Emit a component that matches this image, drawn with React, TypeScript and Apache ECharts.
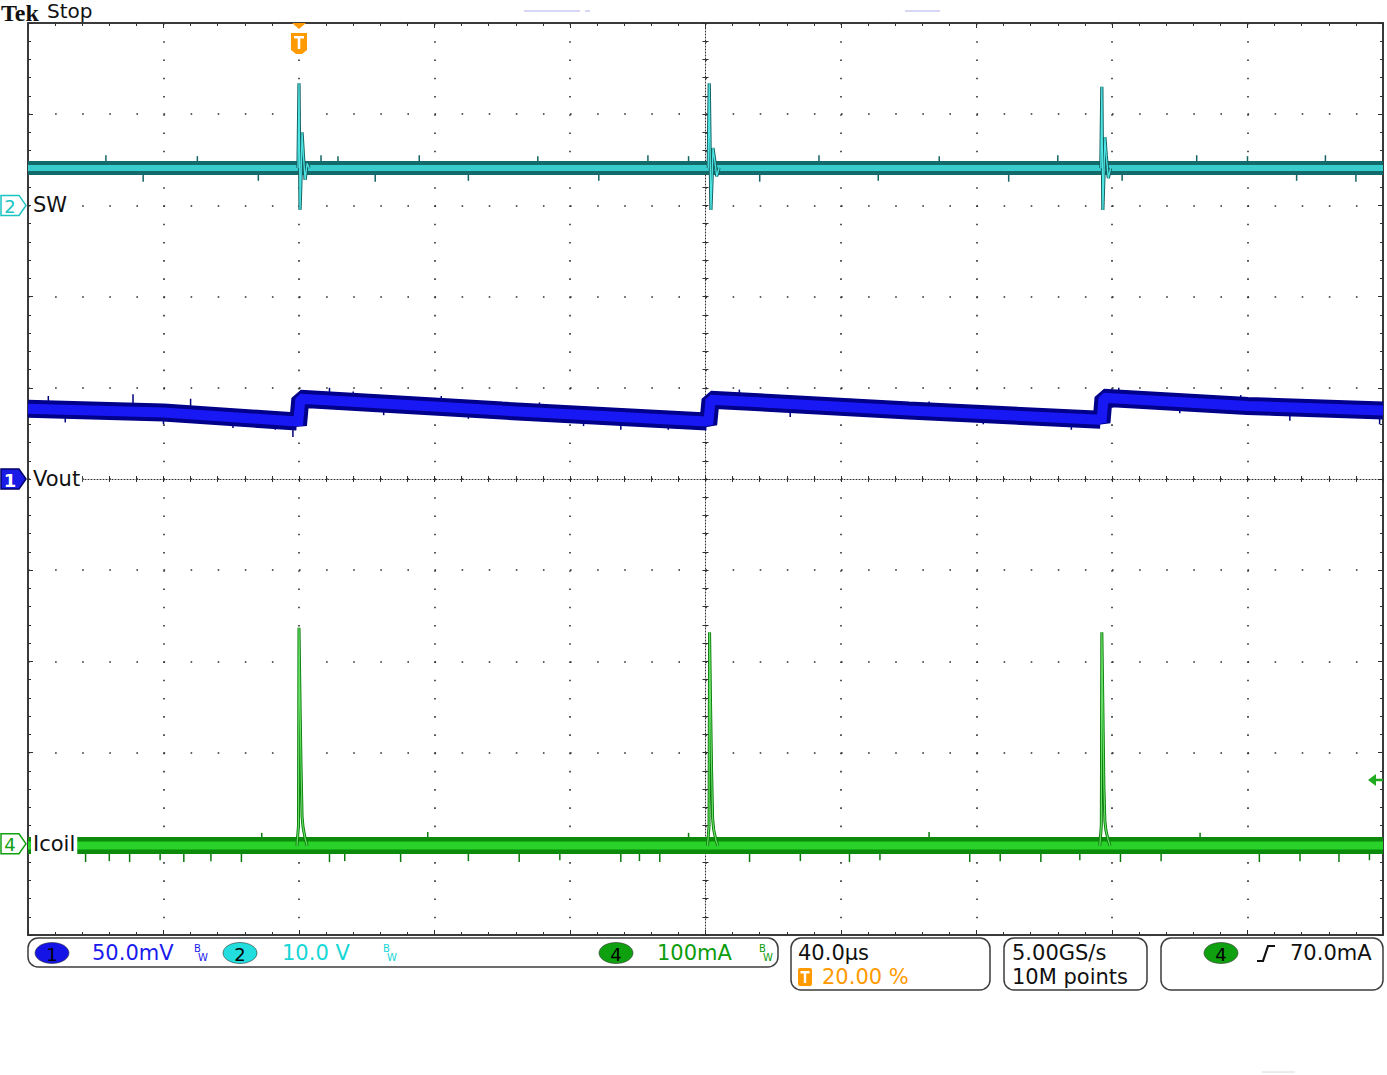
import React, { useEffect, useRef } from "react";
import * as echarts from "echarts";

const PAGE_W = 1387;
const PAGE_H = 1075;

// ---- scope settings ----
const TIME_PER_DIV_US = 40;
const TRIGGER_POS_PCT = 20;
const H_DIVS = 10;
const V_DIVS = 10;
const CH1_MV_PER_DIV = 50;
const CH2_V_PER_DIV = 10;
const CH4_MA_PER_DIV = 100;
const CH1_POS_DIV = 0;
const CH2_POS_DIV = 3;
const CH4_POS_DIV = -4;
const TRIG_LEVEL_MA = 70;

// ---- channel 1 : Vout (band centre), time in µs from trigger, mV ----
const voutTimeUs = [-80, -40, -0.6, -0.3, 0.4, 60, 120.4, 120.8, 121.5, 180, 236.6, 236.9, 237.5, 280, 320];
const voutMv = [38.5, 36.5, 31.5, 29.5, 44.0, 37.5, 31.5, 30.0, 43.5, 37.5, 32.5, 31.0, 44.5, 40.0, 37.5];
// noise glitches on Vout: time µs, low mV, high mV
const voutGlitchT = [-74, -69, -49, -40, -32, -19.5, -7, -1.8, 9, 16, 25, 42, 50, 71, 84, 95, 109, 130, 145, 163, 186, 202, 228, 242, 260, 278, 292.5, 307, 319];
const voutGlitchLo = [38, 31, 37, 30, 35, 28, 27, 23, 41, 41, 35, 38, 33, 35, 29, 27, 27, 41, 34, 37, 35, 30, 27, 41, 36, 38, 32, 36, 30];
const voutGlitchHi = [45.5, 38, 46.5, 36, 44, 34, 33, 32, 50, 48, 41, 45.5, 39, 42, 35, 34, 32, 49, 40, 44, 42.5, 36, 33, 50, 41, 46, 38, 42, 36];

// ---- channel 2 : SW ----
const swBandTimeUs = [-80, 320];
const swBandV = [4.1, 4.1];
const swSpike1: number[][] = [[-0.3, 4.1], [0, 13.4], [0.3, -0.5], [0.6, 3.0], [0.9, 8.0], [1.3, 5.5], [1.8, 2.8], [2.4, 4.6], [3.0, 4.1]];
const swSpike2: number[][] = [[120.8, 4.1], [121.1, 13.4], [121.6, -0.5], [121.9, 2.5], [122.2, 6.3], [122.7, 5.0], [123.3, 3.2], [124.0, 4.1]];
const swSpike3: number[][] = [[236.7, 4.1], [237.0, 13.0], [237.3, -0.5], [237.6, 3.0], [237.9, 7.5], [238.3, 5.5], [238.9, 3.0], [239.6, 4.1]];
const swGlitchT = [-57, -46, -30, -12, 6.5, 11.5, 22.5, 35.5, 50, 70.5, 88.5, 103, 115, 136, 153.5, 171, 189, 209.5, 224, 243, 265, 280, 294.5, 303, 312];
const swGlitchLo = [4.5, 2.6, 4.5, 2.7, 4.5, 4.5, 2.6, 4.5, 2.7, 4.5, 2.7, 4.5, 4.5, 2.6, 4.5, 2.7, 4.5, 2.6, 4.5, 2.7, 4.5, 4.5, 2.7, 4.5, 2.6];
const swGlitchHi = [5.5, 3.7, 5.4, 3.7, 5.5, 5.4, 3.7, 5.5, 3.7, 5.4, 3.7, 5.5, 5.4, 3.7, 5.5, 3.7, 5.4, 3.7, 5.5, 3.7, 5.5, 5.4, 3.7, 5.5, 3.7];

// ---- channel 4 : Icoil ----
const icoilBandTimeUs = [-80, 320];
const icoilBandMa = [-2, -2];
const icoilSpike1: number[][] = [[-0.6, -2], [-0.15, 20], [0, 237], [0.3, 155], [0.6, 85], [0.9, 30], [1.2, 18], [1.8, 6], [2.4, -2]];
const icoilSpike2: number[][] = [[120.6, -2], [121.05, 20], [121.2, 232], [121.5, 150], [121.8, 80], [122.1, 28], [122.4, 16], [123.0, 5], [123.6, -2]];
const icoilSpike3: number[][] = [[236.4, -2], [236.85, 20], [237.0, 232], [237.3, 150], [237.6, 64], [237.9, 25], [238.2, 15], [238.8, 5], [239.4, -2]];
const icoilGlitchT = [-63, -56, -50, -41, -34, -26, -17, -11, 9, 13.5, 30, 38, 50, 65, 77, 95, 100.5, 106.5, 115, 133, 148, 162.5, 171.5, 186, 198, 207, 219, 230.5, 242.5, 254.5, 266, 283.5, 295.5, 307, 316];
const icoilGlitchLo = [-20, -19, -20, -18, -20, -19, -20, 4, -20, -19, -20, 5, -19, -20, -18, -20, -19, -20, 4, -20, -19, -20, -18, 5, -20, -19, -20, -18, -20, -19, 4, -20, -19, -20, -18];
const icoilGlitchHi = [-10, -10, -10, -10, -10, -10, -10, 12, -10, -10, -10, 13, -10, -10, -10, -10, -10, -10, 12, -10, -10, -10, -10, 13, -10, -10, -10, -10, -10, -10, 12, -10, -10, -10, -10];

// ---- readouts ----
const ch1Scale = "50.0mV";
const ch2Scale = "10.0 V";
const ch4Scale = "100mA";
const timebase = "40.0µs";
const trigPosText = "20.00 %";
const sampleRate = "5.00GS/s";
const recordLen = "10M points";
const trigLevelText = "70.0mA";

const toX = (t: number) => t / TIME_PER_DIV_US - H_DIVS / 2 + (H_DIVS * TRIGGER_POS_PCT) / 100;
const ch1Y = (mv: number) => CH1_POS_DIV + mv / CH1_MV_PER_DIV;
const ch2Y = (v: number) => CH2_POS_DIV + v / CH2_V_PER_DIV;
const ch4Y = (ma: number) => CH4_POS_DIV + ma / CH4_MA_PER_DIV;

const DOT = "#2e2e2e";
const FONT = '"DejaVu Sans", sans-serif';

function lineSeries(data: number[][], color: string, width: number, z: number) {
  return {
    type: "line",
    data,
    symbol: "none",
    silent: true,
    z,
    lineStyle: { color, width, cap: "butt", join: "bevel" },
    xAxisIndex: 0,
    yAxisIndex: 0,
  };
}

function glitchSeries(data: number[][], color: string, z: number) {
  return {
    type: "custom",
    data,
    silent: true,
    z,
    clip: true,
    encode: { x: 0, y: [1, 2] },
    renderItem: (_p: any, api: any) => {
      const a = api.coord([api.value(0), api.value(1)]);
      const b = api.coord([api.value(0), api.value(2)]);
      return {
        type: "line",
        shape: { x1: a[0], y1: a[1], x2: b[0], y2: b[1] },
        style: { stroke: color, lineWidth: 1.5 },
      };
    },
  };
}

function frameAxis(pos: string, split: any) {
  return {
    type: "value",
    min: -H_DIVS / 2,
    max: H_DIVS / 2,
    interval: 1,
    position: pos,
    axisLine: { show: true, onZero: false, lineStyle: { color: "#3a3a3a", width: 2 } },
    axisTick: { show: true, inside: true, length: 5, lineStyle: { color: DOT, width: 1 } },
    minorTick: { show: true, splitNumber: 5, length: 3, lineStyle: { color: DOT, width: 1 } },
    axisLabel: { show: false },
    splitLine: split,
  };
}

function centerAxis(pos: string, showLine: boolean, range: number) {
  return {
    type: "value",
    min: -range / 2,
    max: range / 2,
    interval: 1,
    position: pos,
    axisLine: {
      show: showLine,
      onZero: true,
      onZeroAxisIndex: 0,
      lineStyle: { color: DOT, width: 1, type: [1, 2] },
    },
    axisTick: { show: true, inside: false, length: 3, lineStyle: { color: DOT, width: 1 } },
    minorTick: { show: true, splitNumber: 5, length: 3, lineStyle: { color: DOT, width: 1 } },
    axisLabel: { show: false },
    splitLine: { show: false },
  };
}

function buildOption() {
  const vout = voutTimeUs.map((t, i) => [toX(t), ch1Y(voutMv[i])]);
  const swBand = swBandTimeUs.map((t, i) => [toX(t), ch2Y(swBandV[i])]);
  const icBand = icoilBandTimeUs.map((t, i) => [toX(t), ch4Y(icoilBandMa[i])]);
  const sw = [swSpike1, swSpike2, swSpike3].map((s) => s.map(([t, v]) => [toX(t), ch2Y(v)]));
  const ic = [icoilSpike1, icoilSpike2, icoilSpike3].map((s) => s.map(([t, v]) => [toX(t), ch4Y(v)]));
  const voutG = voutGlitchT.map((t, i) => [toX(t), ch1Y(voutGlitchLo[i]), ch1Y(voutGlitchHi[i])]);
  const swG = swGlitchT.map((t, i) => [toX(t), ch2Y(swGlitchLo[i]), ch2Y(swGlitchHi[i])]);
  const icG = icoilGlitchT.map((t, i) => [toX(t), ch4Y(icoilGlitchLo[i]), ch4Y(icoilGlitchHi[i])]);

  const series: any[] = [
    glitchSeries(swG, "#136464", 2),
    lineSeries(swBand, "#136a6a", 14, 3),
    lineSeries(swBand, "#38cccc", 6, 4),
    glitchSeries(voutG, "#00007a", 2),
    lineSeries(vout, "#00008a", 18, 3),
    lineSeries(vout, "#1818f4", 10, 4),
    glitchSeries(icG, "#0a7a0a", 2),
    lineSeries(icBand, "#0b8a0b", 17, 3),
    lineSeries(icBand, "#28d228", 8, 4),
  ];
  sw.forEach((d) => {
    series.push(lineSeries(d, "#135f5f", 3.2, 5));
    series.push(lineSeries(d, "#4fe4e4", 1.3, 6));
  });
  ic.forEach((d) => {
    series.push(lineSeries(d, "#0a7a0a", 3, 5));
    series.push(lineSeries(d, "#66e066", 1.2, 6));
  });

  return {
    animation: false,
    backgroundColor: "#ffffff",
    grid: { left: 28, top: 23, width: 1355, height: 912, show: false },
    xAxis: [
      frameAxis("bottom", { show: true, lineStyle: { color: DOT, width: 1.6, type: [1.6, 16.64] } }),
      frameAxis("top", { show: false }),
      centerAxis("bottom", true, H_DIVS),
      centerAxis("top", false, H_DIVS),
    ],
    yAxis: [
      frameAxis("left", { show: true, lineStyle: { color: DOT, width: 1.6, type: [1.6, 25.5] } }),
      frameAxis("right", { show: false }),
      centerAxis("left", true, V_DIVS),
      centerAxis("right", false, V_DIVS),
    ],
    series,
  };
}

function txt(text: string, x: number, y: number, fill: string, size = 21, extra: any = {}) {
  return {
    type: "text",
    z: 100,
    silent: true,
    style: { text, x, y, fill, fontSize: size, fontFamily: FONT, align: "left", verticalAlign: "middle", ...extra },
  };
}

function chMarker(y: number, label: string, color: string, filled: boolean, name: string, pad: number[]) {
  return [
    {
      type: "polygon",
      z: 100,
      silent: true,
      shape: { points: [[1, y - 10], [19, y - 10], [26, y], [19, y + 10], [1, y + 10]] },
      style: { fill: filled ? color : "#ffffff", stroke: filled ? "#00006a" : color, lineWidth: 1.5 },
    },
    txt(label, 10, y + 1, filled ? "#ffffff" : color, 18, { align: "center", fontWeight: filled ? "bold" : "normal" }),
    txt(name, 31, y, "#111111", 21, { backgroundColor: "#ffffff", padding: pad }),
  ];
}

function chipEllipse(cx: number, cy: number, fill: string, label: string) {
  return [
    { type: "ellipse", z: 100, silent: true, shape: { cx, cy, rx: 17, ry: 10.5 }, style: { fill, stroke: "#333", lineWidth: 0.6 } },
    txt(label, cx, cy + 1, "#000000", 18, { align: "center" }),
  ];
}

function bwGlyph(x: number, color: string) {
  return [txt("B", x, 948, color, 10), txt("W", x + 4, 957, color, 10)];
}

function panelBox(x: number, y: number, w: number, h: number) {
  return {
    type: "rect",
    z: 99,
    silent: true,
    shape: { x, y, width: w, height: h, r: 10 },
    style: { fill: "#ffffff", stroke: "#3d3d3d", lineWidth: 1.5 },
  };
}

function buildGraphics(px: (t: number) => number, py: (d: number) => number) {
  const xT = px(0);
  const yTop = py(V_DIVS / 2);
  const xRight = px(TIME_PER_DIV_US * H_DIVS * (1 - TRIGGER_POS_PCT / 100));
  const yTrig = py(ch4Y(TRIG_LEVEL_MA));
  const orange = "#ff9a00";
  const els: any[] = [
    // header
    txt("Tek", 1, 1, "#111111", 24, { fontFamily: '"Liberation Serif", serif', fontWeight: "bold", verticalAlign: "top" }),
    txt("Stop", 47, 1, "#111111", 20, { verticalAlign: "top" }),
    // faint screen artefacts
    { type: "line", z: 100, silent: true, shape: { x1: 524, y1: 11, x2: 580, y2: 11 }, style: { stroke: "#c9c9f2", lineWidth: 1.5 } },
    { type: "line", z: 100, silent: true, shape: { x1: 585, y1: 11, x2: 590, y2: 11 }, style: { stroke: "#c9c9f2", lineWidth: 1.5 } },
    { type: "line", z: 100, silent: true, shape: { x1: 905, y1: 11, x2: 940, y2: 11 }, style: { stroke: "#c9c9f2", lineWidth: 1.5 } },
    { type: "line", z: 100, silent: true, shape: { x1: 1262, y1: 1072, x2: 1295, y2: 1072 }, style: { stroke: "#d8d8d8", lineWidth: 1 } },
    // trigger position marker
    { type: "polygon", z: 100, silent: true, shape: { points: [[xT - 7, yTop], [xT + 7, yTop], [xT, yTop + 6]] }, style: { fill: orange } },
    {
      type: "polygon",
      z: 100,
      silent: true,
      shape: { points: [[xT - 8, yTop + 10], [xT + 8, yTop + 10], [xT + 8, yTop + 27], [xT + 3, yTop + 31], [xT - 3, yTop + 31], [xT - 8, yTop + 27]] },
      style: { fill: orange },
    },
    { type: "rect", z: 101, silent: true, shape: { x: xT - 5, y: yTop + 13, width: 10, height: 2.5 }, style: { fill: "#ffffff" } },
    { type: "rect", z: 101, silent: true, shape: { x: xT - 1.3, y: yTop + 13, width: 2.6, height: 13 }, style: { fill: "#ffffff" } },
    // trigger level arrow
    { type: "polygon", z: 100, silent: true, shape: { points: [[xRight - 15, yTrig], [xRight - 7, yTrig - 6], [xRight - 7, yTrig + 6]] }, style: { fill: "#1faa1f" } },
    { type: "line", z: 100, silent: true, shape: { x1: xRight - 8, y1: yTrig, x2: xRight, y2: yTrig }, style: { stroke: "#1faa1f", lineWidth: 2.5 } },
    // channel markers
    ...chMarker(py(CH2_POS_DIV), "2", "#19c4c4", false, "SW", [1, 2]),
    ...chMarker(py(CH1_POS_DIV), "1", "#1a1ae6", true, "Vout", [1, 2]),
    ...chMarker(py(CH4_POS_DIV), "4", "#12a012", false, "Icoil", [3, 2]),
    // bottom panel
    panelBox(28, 938, 750, 29),
    panelBox(791, 938, 199, 52),
    panelBox(1004, 938, 143, 52),
    panelBox(1161, 938, 222, 52),
    ...chipEllipse(52, 953, "#1414e6", "1"),
    txt(ch1Scale, 92, 953, "#1a1aee"),
    ...bwGlyph(194, "#1a1aee"),
    ...chipEllipse(240, 953, "#22dede", "2"),
    txt(ch2Scale, 282, 953, "#16d6d6"),
    ...bwGlyph(383, "#16d6d6"),
    ...chipEllipse(616, 953, "#0ea00e", "4"),
    txt(ch4Scale, 657, 953, "#0c9c0c"),
    ...bwGlyph(759, "#0c9c0c"),
    txt(timebase, 798, 953, "#111111"),
    { type: "rect", z: 100, silent: true, shape: { x: 798, y: 968, width: 14, height: 18, r: 2 }, style: { fill: orange } },
    { type: "rect", z: 101, silent: true, shape: { x: 800.5, y: 971, width: 9, height: 2.5 }, style: { fill: "#ffffff" } },
    { type: "rect", z: 101, silent: true, shape: { x: 803.8, y: 971, width: 2.4, height: 12 }, style: { fill: "#ffffff" } },
    txt(trigPosText, 822, 977, orange),
    txt(sampleRate, 1012, 953, "#111111"),
    txt(recordLen, 1012, 977, "#111111"),
    ...chipEllipse(1221, 953, "#0ea00e", "4"),
    { type: "polyline", z: 100, silent: true, shape: { points: [[1257, 961], [1263, 961], [1268, 946], [1275, 946]] }, style: { stroke: "#111", lineWidth: 2.2, fill: null } },
    txt(trigLevelText, 1290, 953, "#111111"),
  ];
  return els;
}

export default function App() {
  const ref = useRef<HTMLDivElement>(null);
  useEffect(() => {
    if (!ref.current) return;
    const chart = echarts.init(ref.current, null, { renderer: "svg" });
    chart.setOption(buildOption() as any);
    const px = (t: number) => chart.convertToPixel({ xAxisIndex: 0 } as any, toX(t)) as number;
    const py = (d: number) => chart.convertToPixel({ yAxisIndex: 0 } as any, d) as number;
    chart.setOption({ graphic: { elements: buildGraphics(px, py) } } as any);
    return () => chart.dispose();
  }, []);
  return (
    <div
      ref={ref}
      style={{ position: "fixed", left: 0, top: 0, width: PAGE_W, height: PAGE_H, background: "#ffffff" }}
    />
  );
}
